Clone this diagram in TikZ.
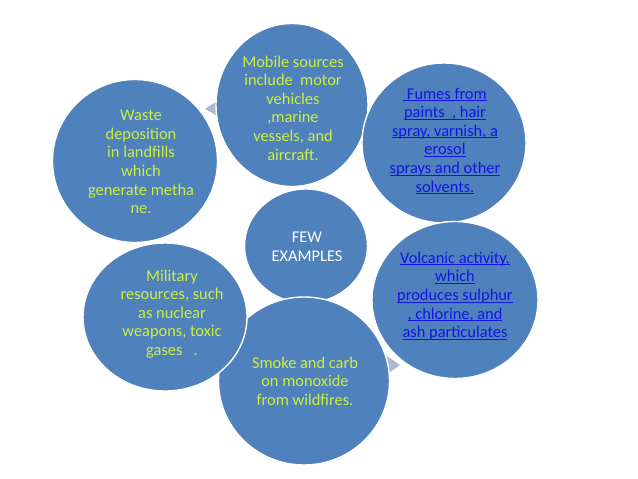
\documentclass[tikz,border=0pt]{standalone}
\usepackage{fontspec}
\setmainfont{Carlito}
\usetikzlibrary{shapes.geometric}
\definecolor{bubble-blue}{HTML}{4F81BD}
\definecolor{leaf-green}{HTML}{CCF03C}
\definecolor{link-blue}{HTML}{1414E6}
\definecolor{arrow-grey}{HTML}{A9BAD8}
% underline just below the baseline, as a hyperlink
\newcommand{\linkline}[1]{\leavevmode\setbox0\hbox{#1}\rlap{\rule[-1.7pt]{\wd0}{0.7pt}}\box0}

\begin{document}
\begin{tikzpicture}[x=0.03cm, y=-0.03cm,
    every node/.style={font=\fontsize{14pt}{15.9pt}\selectfont},
    bubble/.style={ellipse, draw=white, line width=1.2pt, fill=bubble-blue, inner sep=0pt},
    note/.style={align=center, inner sep=0pt, text=leaf-green},
    linknote/.style={align=center, inner sep=0pt, text=link-blue}]
    \useasboundingbox (0,0) rectangle (638,479);
    % cycle arrow heads, mostly hidden behind the bubbles
    \fill[arrow-grey] (205,109) -- (223,97) -- (223,119) -- cycle;
    \fill[arrow-grey] (400,365) -- (381,352) -- (382,378) -- cycle;
    % bubbles
    \node[bubble, minimum width=3.69cm, minimum height=3.42cm] (few) at (306,246) {};
    \node[bubble, minimum width=4.56cm, minimum height=4.89cm] (mobile) at (292,105) {};
    \node[bubble, minimum width=4.92cm, minimum height=4.8cm] (fumes) at (444,143) {};
    \node[bubble, minimum width=4.98cm, minimum height=4.71cm] (volcanic) at (455,300) {};
    \node[bubble, minimum width=5.13cm, minimum height=5.04cm] (smoke) at (304,381) {};
    \node[bubble, minimum width=4.92cm, minimum height=4.44cm] (military) at (165,317) {};
    \node[bubble, minimum width=4.95cm, minimum height=4.89cm] (waste) at (135,161) {};
    % texts
    \node[align=center, inner sep=0pt, text=white] (few-txt) at (307,247) {FEW\\EXAMPLES};
    \node[note] (mobile-txt) at (293,108)
      {Mobile sources\\include\ \ motor\\vehicles\\,marine\\vessels, and\\aircraft.};
    \node[linknote] (fumes-txt) at (445,141)
      {\linkline{\ Fumes from}\\ \linkline{paints\ \ , hair}\\ \linkline{spray, varnish, a}\\
       \linkline{erosol}\\ \linkline{sprays and other}\\ \linkline{solvents.}};
    \node[linknote] (volcanic-txt) at (455,296)
      {\linkline{Volcanic activity,}\\ \linkline{which}\\ \linkline{produces sulphur}\\
       \linkline{, chlorine, and}\\ \linkline{ash particulates}};
    \node[note] (smoke-txt) at (305,381) {Smoke and carb\\on monoxide\\from wildfires.};
    \node[note] (military-txt) at (172,314)
      {Military\\resources, such\\as nuclear\\weapons, toxic\\gases\ \ \ .};
    \node[note] (waste-txt) at (141,162)
      {Waste\\deposition\\in landfills\\which\\generate metha\\ne.};
\end{tikzpicture}
\end{document}
